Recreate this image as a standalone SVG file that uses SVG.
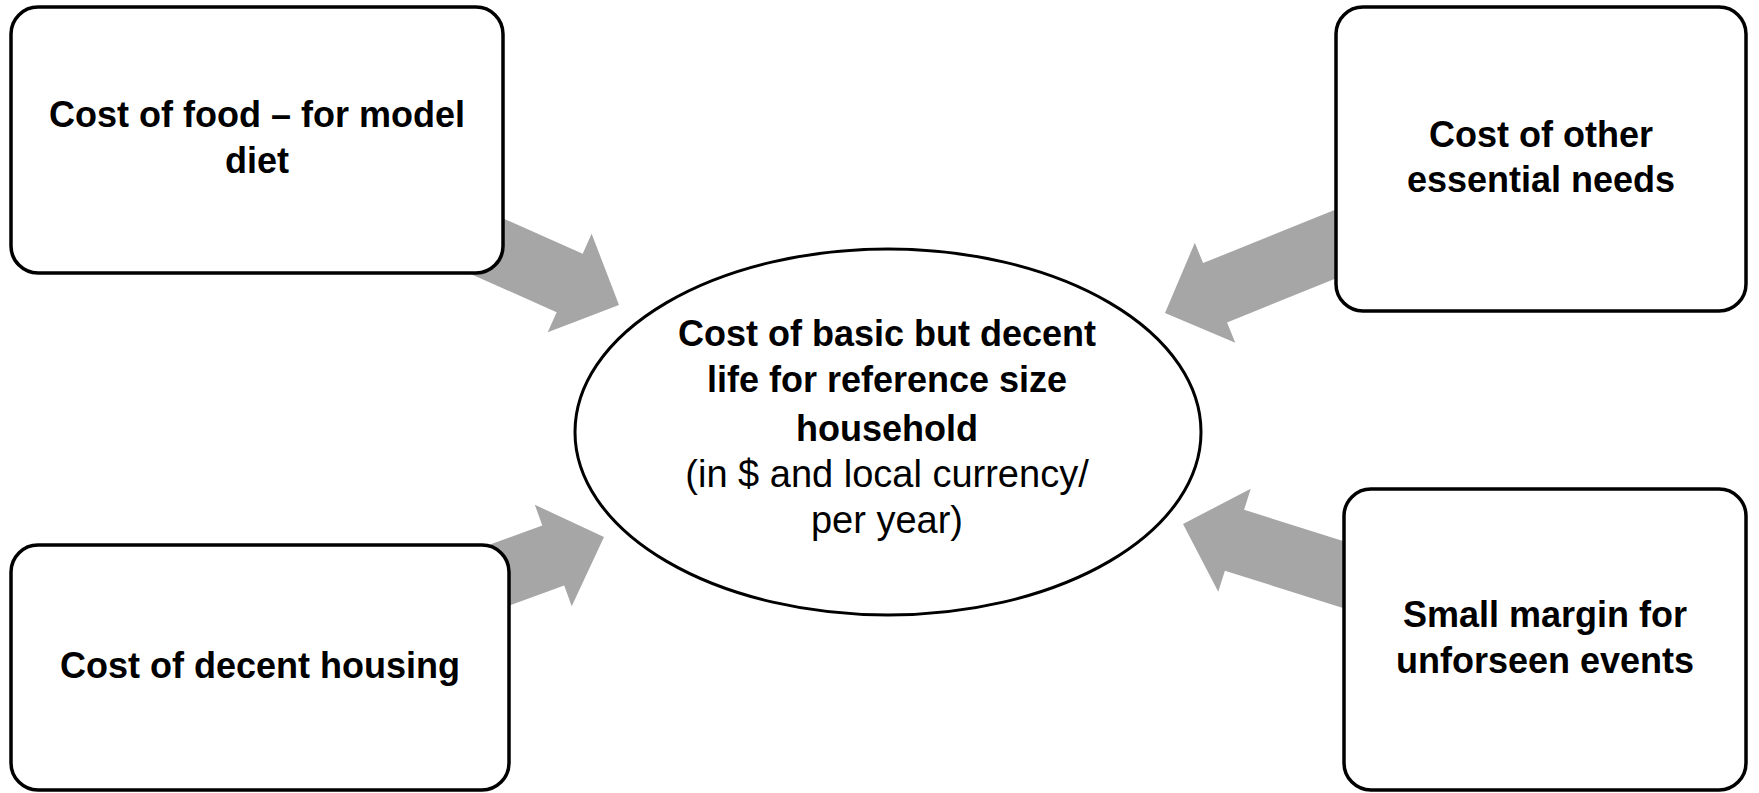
<svg xmlns="http://www.w3.org/2000/svg" width="1759" height="793" viewBox="0 0 1759 793">
<style>
.box{fill:#fff;stroke:#000;stroke-width:3.5}
.ell{fill:#fff;stroke:#000;stroke-width:3}
.arr{fill:#a6a6a6;stroke:none}
.b{font-family:"Liberation Sans",Arial,sans-serif;font-weight:bold;font-size:36px;fill:#000;text-anchor:middle}
.n{font-family:"Liberation Sans",Arial,sans-serif;font-size:38px;fill:#000;text-anchor:middle}
</style>
<defs>
<polygon id="arrow" points="0,0 -54,-54 -54,-32 -300,-32 -300,32 -54,32 -54,54"/>
</defs>
<g id="connectors">
<use href="#arrow" class="arr" transform="translate(619,305) rotate(24)"/>
<use href="#arrow" class="arr" transform="translate(1165,313) rotate(158)"/>
<use href="#arrow" class="arr" transform="translate(604,537) rotate(-20)"/>
<use href="#arrow" class="arr" transform="translate(1183,524) rotate(-162.5)"/>
</g>
<g id="node-food">
<rect class="box" x="11" y="7" width="492" height="266" rx="27" ry="27"/>
<text class="b" x="257" y="127">Cost of food – for model</text>
<text class="b" x="257" y="173">diet</text>
</g>
<g id="node-other">
<rect class="box" x="1336" y="7" width="410" height="304" rx="27" ry="27"/>
<text class="b" x="1541" y="147">Cost of other</text>
<text class="b" x="1541" y="192">essential needs</text>
</g>
<g id="node-housing">
<rect class="box" x="11" y="545" width="498" height="245" rx="27" ry="27"/>
<text class="b" x="260" y="678">Cost of decent housing</text>
</g>
<g id="node-margin">
<rect class="box" x="1344" y="489" width="402" height="301" rx="27" ry="27"/>
<text class="b" x="1545" y="627">Small margin for</text>
<text class="b" x="1545" y="673">unforseen events</text>
</g>
<g id="node-center">
<ellipse class="ell" cx="888" cy="432" rx="313" ry="183"/>
<text class="b" x="887" y="346">Cost of basic but decent</text>
<text class="b" x="887" y="392">life for reference size</text>
<text class="b" x="887" y="441">household</text>
<text class="n" x="887" y="487">(in $ and local currency/</text>
<text class="n" x="887" y="533">per year)</text>
</g>
</svg>
